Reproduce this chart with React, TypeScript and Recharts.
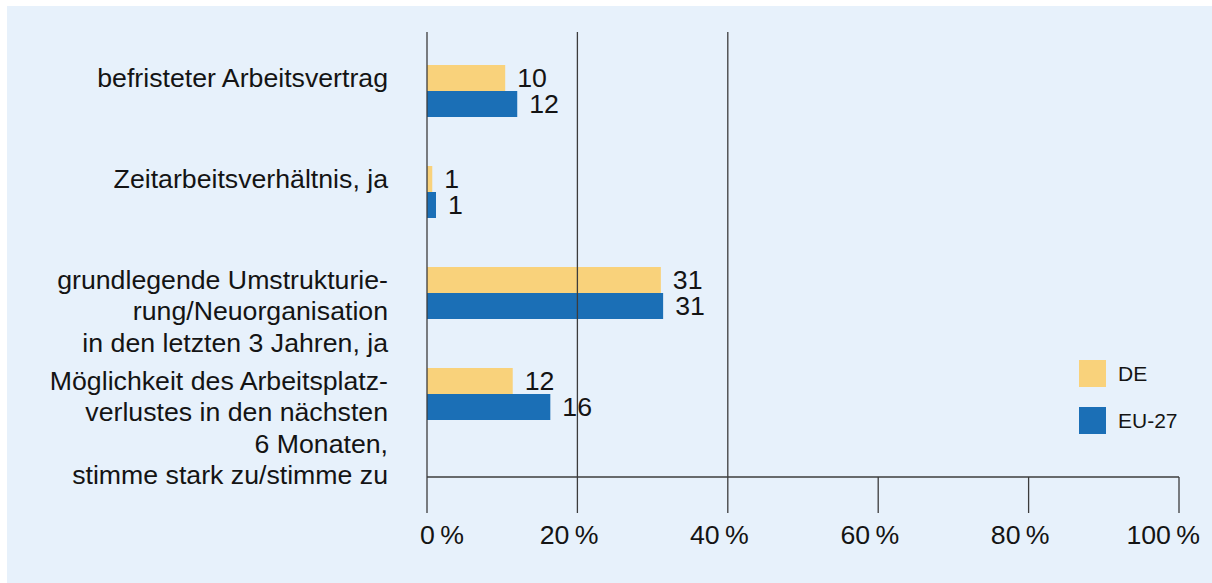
import React from "react";
import {
  BarChart,
  Bar,
  XAxis,
  YAxis,
  ReferenceLine,
  LabelList,
} from "recharts";

const categories = [
  "befristeter Arbeitsvertrag",
  "Zeitarbeitsverhältnis, ja",
  "grundlegende Umstrukturie-\nrung/Neuorganisation\nin den letzten 3 Jahren, ja",
  "Möglichkeit des Arbeitsplatz-\nverlustes in den nächsten\n6 Monaten,\nstimme stark zu/stimme zu",
];
const deValues = [10.4, 0.7, 31.1, 11.4];
const euValues = [12.0, 1.2, 31.4, 16.4];
const deLabels = ["10", "1", "31", "12"];
const euLabels = ["12", "1", "31", "16"];
const seriesNames = ["DE", "EU-27"];
const xTicks = [0, 20, 40, 60, 80, 100];
const gridValues = [20, 40];

const DE_COLOR = "#f9d27b";
const EU_COLOR = "#1b6fb6";
const BG = "#e7f1fb";
const TEXT = "#141414";
const LINE = "#3c3c3c";
const FONT = "'Liberation Sans', Arial, Helvetica, sans-serif";
const FS = 26.7;

const data = categories.map((c, i) => ({
  category: c,
  de: deValues[i],
  eu: euValues[i],
  deLabel: deLabels[i],
  euLabel: euLabels[i],
}));

const YTick = (props: any) => {
  const { y, payload } = props;
  const lines = String(payload.value).split("\n");
  return (
    <text x={381} y={y - 4} textAnchor="end" fontSize={FS} fill={TEXT} fontFamily={FONT}>
      {lines.map((l, i) => (
        <tspan key={i} x={381} dy={i === 0 ? 0 : 31.5}>
          {l}
        </tspan>
      ))}
    </text>
  );
};

const XTick = (props: any) => {
  const { x, y, payload, index } = props;
  const first = index === 0;
  return (
    <text
      x={first ? x - 7 : x + 21}
      y={y}
      dy="0.71em"
      textAnchor={first ? "start" : "end"}
      fontSize={FS}
      fill={TEXT}
      fontFamily={FONT}
    >
      {`${payload.value}\u2009%`}
    </text>
  );
};

const LegendBox = () => {
  const colors = [DE_COLOR, EU_COLOR];
  return (
    <div style={{ position: "absolute", left: 1072, top: 354, fontFamily: FONT }}>
      {seriesNames.map((n, i) => (
        <div
          key={n}
          style={{
            display: "flex",
            alignItems: "center",
            height: 27,
            marginBottom: i === 0 ? 20 : 0,
          }}
        >
          <div style={{ width: 27, height: 27, background: colors[i] }} />
          <span style={{ marginLeft: 12, fontSize: 21, color: TEXT }}>{n}</span>
        </div>
      ))}
    </div>
  );
};

export default function App() {
  return (
    <div
      style={{
        position: "absolute",
        left: 7,
        top: 6,
        width: 1205,
        height: 577,
        background: BG,
        overflow: "hidden",
        fontFamily: FONT,
      }}
    >
      <BarChart
        width={1205}
        height={577}
        data={data}
        layout="vertical"
        margin={{ top: 26, right: 33, bottom: 26, left: 10 }}
        barGap={0}
        barSize={26}
      >
        <XAxis
          type="number"
          domain={[0, 100]}
          ticks={xTicks}
          interval={0}
          height={80}
          tickSize={36}
          tickMargin={12}
          stroke={LINE}
          axisLine={{ stroke: LINE, strokeWidth: 1.3 }}
          tickLine={{ stroke: LINE, strokeWidth: 1.3 }}
          tick={<XTick />}
        />
        <YAxis
          type="category"
          dataKey="category"
          width={410}
          padding={{ top: 8, bottom: 33 }}
          axisLine={{ stroke: LINE, strokeWidth: 1.3 }}
          tickLine={false}
          tick={<YTick />}
          interval={0}
        />
        {gridValues.map((g) => (
          <ReferenceLine key={g} x={g} stroke={LINE} strokeWidth={1.3} />
        ))}
        <Bar dataKey="de" name={seriesNames[0]} fill={DE_COLOR} isAnimationActive={false}>
          <LabelList dataKey="deLabel" position="right" offset={12} fontSize={FS} fill={TEXT} fontFamily={FONT} />
        </Bar>
        <Bar dataKey="eu" name={seriesNames[1]} fill={EU_COLOR} isAnimationActive={false}>
          <LabelList dataKey="euLabel" position="right" offset={12} fontSize={FS} fill={TEXT} fontFamily={FONT} />
        </Bar>
      </BarChart>
      <LegendBox />
    </div>
  );
}
